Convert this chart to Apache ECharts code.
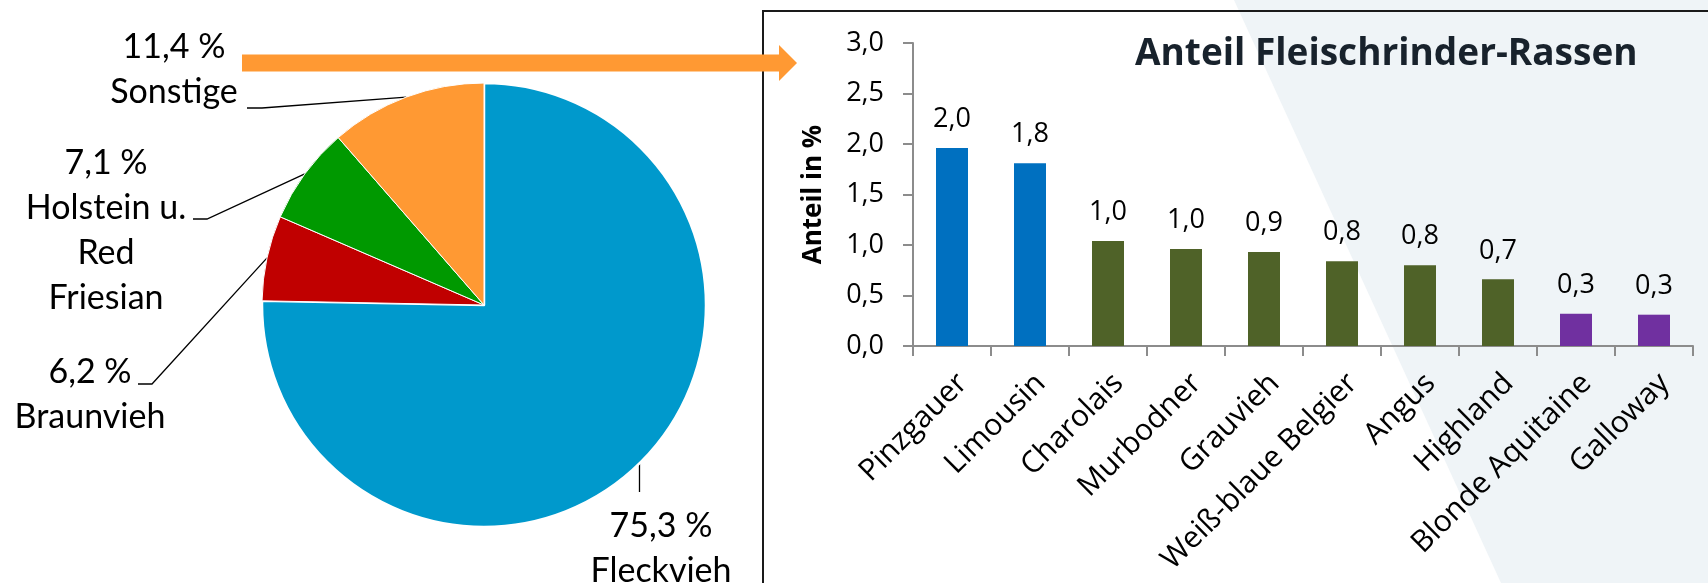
<!DOCTYPE html>
<html lang="de">
<head>
<meta charset="utf-8">
<title>Rinderrassen</title>
<script src="https://cdn.jsdelivr.net/npm/echarts@6/dist/echarts.min.js"></script>
<style>
  html, body { margin: 0; padding: 0; background: #ffffff; }
  #chart { width: 1708px; height: 583px; }
</style>
</head>
<body>
<div id="chart"></div>
<script>
// Anteil der Rassen am Rinderbestand (Kreis) und Fleischrinder-Rassen (Säulen)
const breeds = ['Fleckvieh', 'Braunvieh', 'Holstein u.\nRed\nFriesian', 'Sonstige'];
const breedShares = [75.3, 6.2, 7.1, 11.4];

const beefBreeds = ['Pinzgauer', 'Limousin', 'Charolais', 'Murbodner', 'Grauvieh',
  'Weiß-blaue Belgier', 'Angus', 'Highland', 'Blonde Aquitaine', 'Galloway'];
const beefShares = [1.96, 1.81, 1.04, 0.96, 0.93, 0.84, 0.80, 0.66, 0.32, 0.31];

const fmt = v => v.toFixed(1).replace('.', ',');

const pieColors = ['#0099cc', '#c00000', '#009900', '#ff9933'];
const barColor = i => (i < 2 ? '#0070c0' : i < 8 ? '#4f6228' : '#7030a0');

// label text anchors and leader line bends for the pie, per slice
const pieLabelPlace = [
  { x: 661, y: 549, bend: p => [[p[0], p[1] + 14], [p[0], 492]] },
  { x: 90,  y: 395, bend: () => [[152, 384], [138, 384]] },
  { x: 106, y: 231, bend: () => [[207, 219], [193, 219]] },
  { x: 174, y: 70,  bend: () => [[262, 108], [247, 108]] }
];

const chart = echarts.init(document.getElementById('chart'), null, { renderer: 'canvas' });

chart.setOption({
  animation: false,
  backgroundColor: '#ffffff',
  title: {
    text: 'Anteil Fleischrinder-Rassen',
    left: 1135,
    top: 36,
    padding: 0,
    textStyle: { fontFamily: 'Open Sans', fontWeight: 'bold', fontSize: 37, color: '#18222c' }
  },
  graphic: [
    {
      type: 'polygon', z: -10, silent: true,
      shape: { points: [[1234, 0], [1708, 0], [1708, 583], [1501, 583]] },
      style: { fill: '#eff4f7' }
    },
    {
      type: 'polyline', z: 1, silent: true,
      shape: { points: [[763, 583], [763, 11], [1708, 11]] },
      style: { stroke: '#1a1a1a', lineWidth: 2, fill: null }
    },
    {
      type: 'polygon', z: 5, silent: true,
      shape: { points: [[242, 54.5], [779, 54.5], [779, 45], [797, 63], [779, 81], [779, 71.5], [242, 71.5]] },
      style: { fill: '#ff9933' }
    }
  ],
  grid: { left: 913, right: 15, top: 43, bottom: 237, containLabel: false },
  xAxis: {
    type: 'category',
    data: beefBreeds,
    axisLine: { show: true, lineStyle: { color: '#8c8c8c', width: 2 } },
    axisTick: { show: true, length: 10, interval: 0, lineStyle: { color: '#8c8c8c', width: 2 } },
    axisLabel: {
      interval: 0, rotate: 45, margin: 22, verticalAlign: 'top',
      fontFamily: 'Open Sans', fontSize: 30, color: '#000'
    },
    splitLine: { show: false }
  },
  yAxis: {
    type: 'value',
    min: 0, max: 3, interval: 0.5,
    name: 'Anteil in %',
    nameLocation: 'middle',
    nameGap: 86,
    nameTextStyle: { fontFamily: 'Open Sans', fontWeight: 'bold', fontSize: 26, color: '#000' },
    axisLine: { show: true, lineStyle: { color: '#8c8c8c', width: 2 } },
    axisTick: { show: true, length: 10, lineStyle: { color: '#8c8c8c', width: 2 } },
    axisLabel: {
      margin: 29, fontFamily: 'Open Sans', fontSize: 27, color: '#000',
      formatter: v => fmt(v)
    },
    splitLine: { show: false }
  },
  series: [
    {
      type: 'bar',
      data: beefShares,
      barWidth: 32,
      itemStyle: { color: p => barColor(p.dataIndex) },
      label: {
        show: true, position: 'top', distance: 15,
        fontFamily: 'Open Sans', fontSize: 27, color: '#000',
        formatter: p => fmt(p.value)
      },
      emphasis: { disabled: true }
    },
    {
      type: 'pie',
      center: [484, 305],
      radius: [0, 222],
      startAngle: 90,
      clockwise: true,
      data: breeds.map((name, i) => ({
        name, value: breedShares[i],
        itemStyle: { color: pieColors[i], borderWidth: i === 0 ? 2.5 : 1 }
      })),
      itemStyle: { borderColor: '#ffffff', borderWidth: 1 },
      emphasis: { disabled: true },
      label: {
        show: true, position: 'outside',
        fontFamily: 'Lato', fontSize: 34, lineHeight: 45, color: '#000', align: 'center',
        formatter: p => fmt(p.value) + ' %\n' + p.name
      },
      labelLine: { show: true, length: 10, length2: 10, lineStyle: { color: '#000', width: 1.3 } },
      labelLayout: params => {
        const place = pieLabelPlace[params.dataIndex];
        const start = params.labelLinePoints ? params.labelLinePoints[0] : null;
        const layout = { x: place.x, y: place.y, align: 'center', verticalAlign: 'middle' };
        if (start) layout.labelLinePoints = [start].concat(place.bend(start));
        return layout;
      }
    }
  ]
});
</script>
</body>
</html>
